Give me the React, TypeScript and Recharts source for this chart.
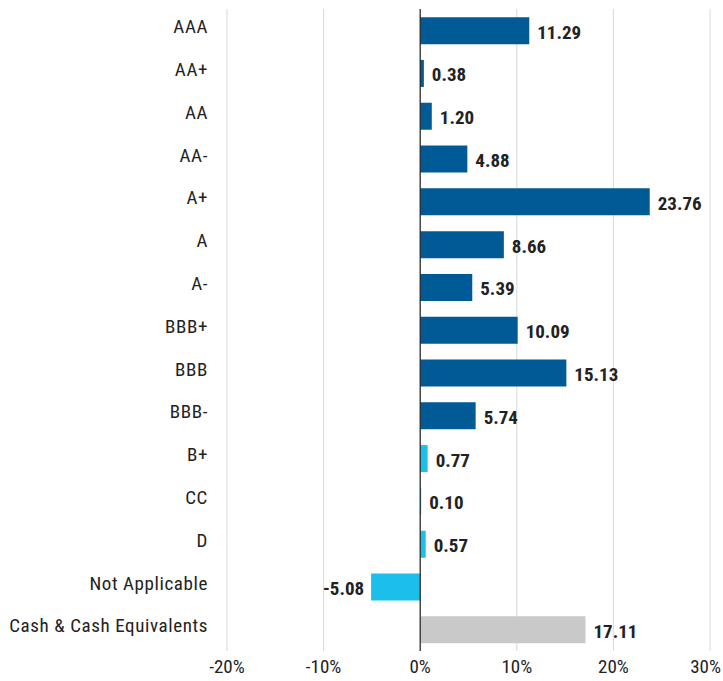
import { BarChart, Bar, XAxis, YAxis, CartesianGrid, ReferenceLine, Cell, LabelList } from 'recharts'

const ratings = [
  'AAA', 'AA+', 'AA', 'AA-', 'A+', 'A', 'A-', 'BBB+', 'BBB', 'BBB-',
  'B+', 'CC', 'D', 'Not Applicable', 'Cash & Cash Equivalents',
]
const weights = [11.29, 0.38, 1.2, 4.88, 23.76, 8.66, 5.39, 10.09, 15.13, 5.74, 0.77, 0.1, 0.57, -5.08, 17.11]
const xTicks = [-20, -10, 0, 10, 20, 30]

const belowInvestmentGrade = new Set(['B+', 'CC', 'D', 'Not Applicable'])
const cashLike = new Set(['Cash & Cash Equivalents'])

const colorFor = (name: string) =>
  cashLike.has(name) ? '#c9c9c9' : belowInvestmentGrade.has(name) ? '#1bbfea' : '#005a96'

const font = '"Liberation Sans Narrow", "Arial Narrow", "Roboto Condensed", sans-serif'

const data = ratings.map((name, i) => ({ name, value: weights[i] }))

const ValueLabel = (props: any) => {
  const { x, y, width, height, value } = props
  const neg = value < 0
  const end = x + width
  return (
    <text
      x={neg ? end - 7 : end + 8}
      y={y + height / 2 + 3}
      textAnchor={neg ? 'end' : 'start'}
      dominantBaseline="middle"
      fontFamily={font}
      fontWeight={700}
      fontSize={19}
      fill="#222"
    >
      {value.toFixed(2)}
    </text>
  )
}

export default function App() {
  return (
    <div style={{ position: 'absolute', left: 0, top: 0, width: 723, height: 681, background: '#fff' }}>
      <BarChart
        width={723}
        height={681}
        data={data}
        layout="vertical"
        margin={{ top: 9, right: 13, left: 0, bottom: 0 }}
        barCategoryGap="19%"
      >
        <CartesianGrid horizontal={false} stroke="#d9d9d9" />
        <XAxis
          type="number"
          domain={[-20, 30]}
          ticks={xTicks}
          tickFormatter={(v) => `${v}%`}
          axisLine={false}
          tickLine={false}
          height={30}
          tickMargin={3}
          tick={{ fontSize: 19, fill: '#222', fontFamily: font }}
        />
        <YAxis
          type="category"
          dataKey="name"
          width={227}
          axisLine={false}
          tickLine={false}
          tickMargin={13}
          tick={{ fontSize: 19, fill: '#222', fontFamily: font, letterSpacing: 0.6, dy: -4 }}
        />
        <ReferenceLine x={0} stroke="#222" strokeWidth={1.2} />
        <Bar dataKey="value" isAnimationActive={false}>
          {data.map((d) => (
            <Cell key={d.name} fill={colorFor(d.name)} />
          ))}
          <LabelList dataKey="value" content={ValueLabel} />
        </Bar>
      </BarChart>
    </div>
  )
}
